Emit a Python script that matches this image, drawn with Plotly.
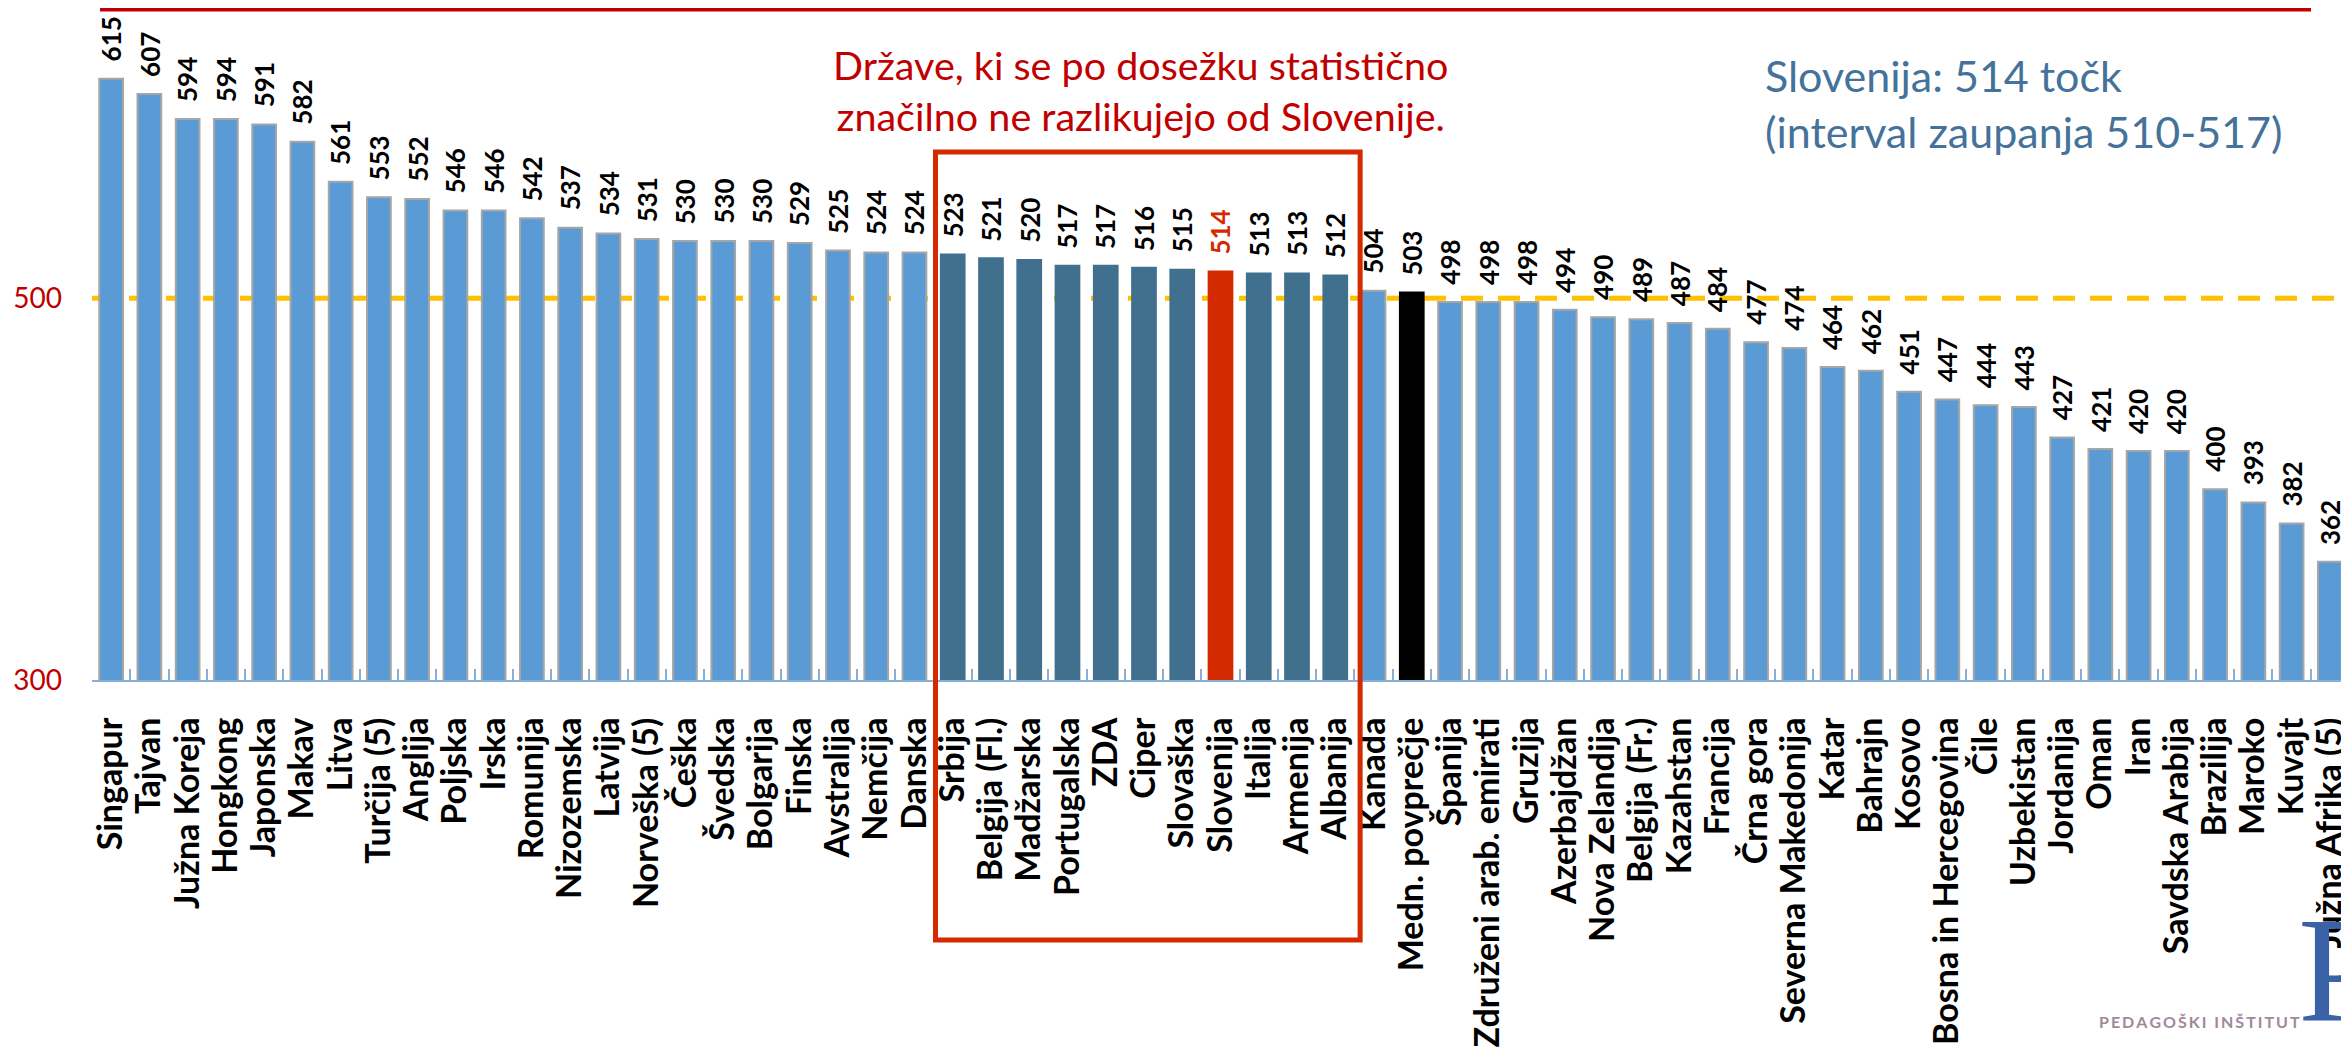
import plotly.graph_objects as go

# ---------------- data ----------------
countries = [
    "Singapur", "Tajvan", "Južna Koreja", "Hongkong", "Japonska", "Makav", "Litva",
    "Turčija (5)", "Anglija", "Poljska", "Irska", "Romunija", "Nizozemska", "Latvija",
    "Norveška (5)", "Češka", "Švedska", "Bolgarija", "Finska", "Avstralija", "Nemčija",
    "Danska", "Srbija", "Belgija (Fl.)", "Madžarska", "Portugalska", "ZDA", "Ciper",
    "Slovaška", "Slovenija", "Italija", "Armenija", "Albanija", "Kanada",
    "Medn. povprečje", "Španija", "Združeni arab. emirati", "Gruzija", "Azerbajdžan",
    "Nova Zelandija", "Belgija (Fr.)", "Kazahstan", "Francija", "Črna gora",
    "Severna Makedonija", "Katar", "Bahrajn", "Kosovo", "Bosna in Hercegovina", "Čile",
    "Uzbekistan", "Jordanija", "Oman", "Iran", "Savdska Arabija", "Brazilija", "Maroko",
    "Kuvajt", "Južna Afrika (5)",
]
scores = [
    615, 607, 594, 594, 591, 582, 561,
    553, 552, 546, 546, 542, 537, 534,
    531, 530, 530, 530, 529, 525, 524,
    524, 523, 521, 520, 517, 517, 516,
    515, 514, 513, 513, 512, 504,
    503, 498, 498, 498, 494,
    490, 489, 487, 484, 477,
    474, 464, 462, 451, 447, 444,
    443, 427, 421, 420, 420, 400, 393,
    382, 362,
]
# countries whose score is not statistically different from Slovenia
similar = ["Srbija", "Belgija (Fl.)", "Madžarska", "Portugalska", "ZDA", "Ciper",
           "Slovaška", "Italija", "Armenija", "Albanija"]
home = "Slovenija"
intl_avg = "Medn. povprečje"
centre_point = 500
y_tickvals = [300, 500]
title_left = "Države, ki se po dosežku statistično<br>značilno ne razlikujejo od Slovenije."
title_right = "Slovenija: 514 točk<br>(interval zaupanja 510-517)"
logo_text = "PEDAGOŠKI INŠTITUT"

# ---------------- styles ----------------
LIGHT = "#5B9BD5"
DARK = "#41708F"
RED = "#D42A00"
BLACK = "#000000"
AXIS = "#8AAFD6"
FONT = "Lato"

fill, edge = [], []
for c in countries:
    if c == home:
        fill.append(RED); edge.append(RED)
    elif c == intl_avg:
        fill.append(BLACK); edge.append(BLACK)
    elif c in similar:
        fill.append(DARK); edge.append(DARK)
    else:
        fill.append(LIGHT); edge.append("#A6A6A6")

fig = go.Figure()
fig.add_trace(go.Bar(
    x=countries, y=scores,
    marker=dict(color=fill, line=dict(color=edge, width=2)),
    width=0.62, hoverinfo="x+y",
))

# value labels (rotated, above each bar)
for c, s in zip(countries, scores):
    fig.add_annotation(
        x=c, y=s, text="<b>%d</b>" % s, textangle=270, showarrow=False,
        xanchor="center", yanchor="bottom", yshift=15,
        font=dict(family=FONT, size=26, color=RED if c == home else BLACK),
    )

# page body has an 8px margin: the figure is laid out in page coords minus OFF
OFF = 8
W, H = 2349 - OFF, 1052 - OFF
ML, MR, MT, MB = 84, 0, 4, 372
PW, PH = W - ML - MR, H - MT - MB


def px_x(x):  # screen x -> paper
    return (x - OFF - ML) / PW


def px_y(y):  # screen y -> paper
    return (H - MB - (y - OFF)) / PH


# dashed reference line at 500
fig.add_shape(type="line", xref="paper", yref="y", x0=0, x1=1,
              y0=centre_point, y1=centre_point, layer="below",
              line=dict(color="#FFC000", width=5, dash="22px,15px"))

# box around statistically similar countries
i0 = countries.index(similar[0])
i1 = countries.index(similar[-1])
fig.add_shape(type="rect", xref="x", yref="paper",
              x0=i0 - 0.45, x1=i1 + 0.65, y0=px_y(940), y1=px_y(152),
              line=dict(color=RED, width=5), fillcolor="rgba(0,0,0,0)", layer="above")

# decorative top red rule
fig.add_shape(type="line", xref="paper", yref="paper",
              x0=px_x(100), x1=px_x(2311), y0=px_y(9), y1=px_y(9),
              line=dict(color="#C00000", width=5))

fig.add_annotation(xref="paper", yref="paper", x=px_x(1140), y=px_y(90),
                   text=title_left, showarrow=False, xanchor="center", yanchor="middle",
                   align="center", font=dict(family=FONT, size=39.5, color="#C00000"))
fig.add_annotation(xref="paper", yref="paper", x=px_x(1763), y=px_y(103),
                   text=title_right, showarrow=False, xanchor="left", yanchor="middle",
                   align="left", font=dict(family=FONT, size=43, color="#44729A"))
fig.add_annotation(xref="paper", yref="paper", x=px_x(2302), y=px_y(1022),
                   text="\u2009".join(logo_text), showarrow=False, xanchor="right",
                   yanchor="middle",
                   font=dict(family=FONT, size=16, color="#A0899A", weight="bold"))
fig.add_annotation(xref="paper", yref="paper", x=px_x(2296), y=px_y(885),
                   text="P", showarrow=False, xanchor="left", yanchor="top",
                   font=dict(family="Liberation Serif", size=150, color="#3A62A7"))

fig.update_layout(
    width=W, height=H,
    margin=dict(l=ML, r=MR, t=MT, b=MB, pad=0, autoexpand=False),
    paper_bgcolor="white", plot_bgcolor="white",
    showlegend=False,
    bargap=0.38,
    font=dict(family=FONT),
)
fig.update_xaxes(
    type="category", tickangle=-90, automargin=False,
    tickmode="array", tickvals=countries, ticktext=countries,
    tickfont=dict(family=FONT, size=34, color=BLACK, weight="bold"),
    showline=True, linecolor=AXIS, linewidth=2,
    ticks="inside", tickson="boundaries", ticklen=11, tickcolor=AXIS, tickwidth=2,
    ticklabelstandoff=22, showgrid=False, zeroline=False,
)
fig.update_yaxes(
    range=[300, 650], tickvals=y_tickvals, automargin=False,
    tickfont=dict(family=FONT, size=28, color="#C00000"),
    showline=False, showgrid=False, zeroline=False, ticks="",
    ticklabelstandoff=29,
)

fig.write_html("out.html")
